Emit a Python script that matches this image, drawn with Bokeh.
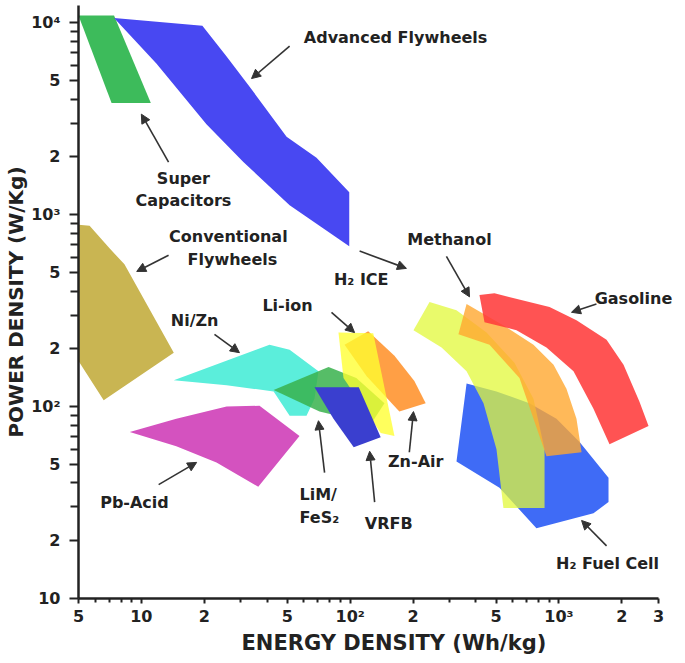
from bokeh.plotting import figure
from bokeh.models import ColumnDataSource, FixedTicker, Label, Arrow, NormalHead, Title
from bokeh.embed import file_html
from bokeh.resources import INLINE

# ---------------- data: Ragone regions (energy density Wh/kg, power density W/kg) --------------
supercap_energy = [5, 7.4, 11.1, 7.2]
supercap_power = [10900, 10900, 3820, 3820]

adv_flywheel_energy = [7.4, 19.6, 25.6, 33, 49.6, 69, 99, 99, 51.3, 30.8, 20.5, 11.8]
adv_flywheel_power = [10600, 9640, 6680, 4640, 2550, 1980, 1310, 685, 1120, 1880, 2960, 6140]

conv_flywheel_energy = [5, 5.65, 7.04, 8.3, 14.3, 6.6, 5]
conv_flywheel_power = [885, 875, 668, 551, 191, 108, 173]

nizn_energy = [14.3, 41.1, 51.3, 70.5, 67.5, 61.8, 51.3, 43, 25.6]
nizn_power = [137, 210, 198, 153, 110, 89.6, 89.6, 120, 129]

pbacid_energy = [8.8, 14.7, 25.6, 36.8, 57.2, 36.3, 22.9, 14.7]
pbacid_power = [73.8, 86.4, 100, 101, 70.3, 38.2, 51.2, 62.2]

lim_energy = [43, 78.8, 107, 146, 126, 71.3]
lim_power = [122, 161, 141, 104, 81.3, 94.2]

znair_energy = [94, 122, 163, 203, 230, 172, 120]
znair_power = [210, 247, 184, 136, 104, 94.2, 144]

liion_energy = [87.9, 129, 163, 140, 92.9]
liion_power = [243, 241, 70.3, 72.8, 141]

vrfb_energy = [67.5, 110, 140, 104, 83.2]
vrfb_power = [126, 126, 69.3, 61.4, 86.4]

fuelcell_energy = [361, 502, 722, 973, 1255, 1727, 1727, 1463, 780, 519, 323]
fuelcell_power = [132, 120, 104, 86.4, 65.3, 42.6, 31.8, 27.8, 23.2, 37.8, 51.8]

h2ice_energy = [240, 323, 450, 612, 755, 853, 853, 542, 502, 435, 361, 274, 201]
h2ice_power = [351, 318, 243, 169, 110, 60, 29.6, 29.6, 60, 104, 153, 203, 250]

methanol_energy = [361, 561, 755, 942, 1086, 1213, 1283, 871, 755, 647, 465, 330]
methanol_power = [342, 259, 210, 165, 124, 86.4, 57.8, 55.1, 86.4, 141, 210, 238]

gasoline_energy = [416, 491, 901, 1213, 1690, 2038, 2430, 2685, 1746, 1463, 1174, 871, 626, 440]
gasoline_power = [382, 389, 330, 282, 223, 165, 106, 79.3, 63.7, 97.5, 153, 203, 250, 275]

# axis ticks
x_ticks = [5, 10, 20, 50, 100, 200, 500, 1000, 2000, 3000]
x_tick_labels = ["5", "10", "2", "5", "10\u00b2", "2", "5", "10\u00b3", "2", "3"]
x_minor = [6, 7, 8, 9, 30, 40, 60, 70, 80, 90, 300, 400, 600, 700, 800, 900]
y_ticks = [10, 20, 50, 100, 200, 500, 1000, 2000, 5000, 10000]
y_tick_labels = ["10", "2", "5", "10\u00b2", "2", "5", "10\u00b3", "2", "5", "10\u2074"]
y_minor = [30, 40, 60, 70, 80, 90, 300, 400, 600, 700, 800, 900,
           3000, 4000, 6000, 7000, 8000, 9000]

# annotation labels (energy, power)
label_texts = ["Advanced Flywheels", "Super", "Capacitors", "Conventional", "Flywheels",
               "Ni/Zn", "Li-ion", "H\u2082 ICE", "Methanol", "Gasoline", "Zn-Air",
               "VRFB", "Pb-Acid", "H\u2082 Fuel Cell"]
label_x = [165, 15.9, 15.9, 26.1, 27.3, 18, 50.1, 113, 299, 2275, 206, 153, 9.27, 1709]
label_y = [8340, 1549, 1186, 774, 585, 282, 338, 458, 746, 364, 51.8, 24.7, 31.8, 15.3]
left_label_texts = ["LiM/", "FeS\u2082"]
left_label_x = [57.2, 57.2]
left_label_y = [34.7, 26.5]

# arrows: start -> end (head)
arrow_x0 = [51.3, 13.5, 13.5, 22.4, 81.4, 111, 289, 1512, 192, 75.4, 131, 12.1, 1690]
arrow_y0 = [7550, 1880, 614, 238, 310, 646, 607, 342, 57.8, 45.3, 31.8, 39.2, 18.8]
arrow_x1 = [33.7, 10.0, 9.5, 29.5, 105, 186, 373, 1148, 201, 70.5, 124, 18.4, 1283]
arrow_y1 = [5120, 3340, 506, 191, 243, 525, 373, 310, 94.2, 84.4, 58.5, 51.2, 25.5]

# ---------------- figure ----------------
# x frame extends past 3000 so the right-hand label has room; axis line stops at 3000
p = figure(width=676, height=654, x_axis_type="log", y_axis_type="log",
           x_range=(5, 3655), y_range=(10, 12300),
           output_backend="svg", toolbar_location=None,
           min_border_left=78, min_border_right=0, min_border_top=5, min_border_bottom=50)
p.outline_line_color = None
p.grid.visible = False
p.background_fill_color = "white"

regions = [
    (conv_flywheel_energy, conv_flywheel_power, "#c9b552", 1.0),
    (supercap_energy, supercap_power, "#3dbb5b", 1.0),
    (adv_flywheel_energy, adv_flywheel_power, "#4848f2", 1.0),
    (nizn_energy, nizn_power, "#5beedb", 1.0),
    (pbacid_energy, pbacid_power, "#d452bf", 1.0),
    (lim_energy, lim_power, "#38b24c", 0.85),
    (znair_energy, znair_power, "#ff9f45", 1.0),
    (liion_energy, liion_power, "#ffff30", 0.78),
    (vrfb_energy, vrfb_power, "#3a3fcf", 1.0),
    (fuelcell_energy, fuelcell_power, "#3f6bf6", 1.0),
    (h2ice_energy, h2ice_power, "#e2f83a", 0.75),
    (methanol_energy, methanol_power, "#ffa830", 0.8),
    (gasoline_energy, gasoline_power, "#ff3b3b", 0.88),
]
src = ColumnDataSource(dict(
    xs=[r[0] for r in regions], ys=[r[1] for r in regions],
    color=[r[2] for r in regions], alpha=[r[3] for r in regions]))
p.patches("xs", "ys", source=src, fill_color="color", fill_alpha="alpha", line_color=None)

# ---------------- axes ----------------
xa = p.xaxis[0]
ya = p.yaxis[0]
xa.bounds = (5, 3000)
xa.ticker = FixedTicker(ticks=x_ticks, minor_ticks=x_minor)
ya.ticker = FixedTicker(ticks=y_ticks, minor_ticks=y_minor)
xa.major_label_overrides = {t: l for t, l in zip(x_ticks, x_tick_labels)}
ya.major_label_overrides = {t: l for t, l in zip(y_ticks, y_tick_labels)}
for ax in (xa, ya):
    ax.major_label_text_font = "DejaVu Sans"
    ax.major_label_text_font_style = "bold"
    ax.major_label_text_font_size = "16px"
    ax.major_label_text_color = "#222222"
    ax.axis_line_width = 2.5
    ax.axis_line_color = "#222222"
    ax.major_tick_line_width = 2
    ax.minor_tick_line_width = 2
    ax.major_tick_line_color = "#222222"
    ax.minor_tick_line_color = "#222222"
    ax.major_tick_in = 0
    ax.minor_tick_in = 0
xa.major_tick_out = 5
xa.minor_tick_out = 4
xa.major_label_standoff = 3
xa.axis_label_standoff = 0
ya.major_tick_out = 9
ya.minor_tick_out = 8
ya.major_label_standoff = 9
ya.axis_label = "POWER DENSITY (W/Kg)"
ya.axis_label_text_font = "DejaVu Sans"
ya.axis_label_text_font_style = "bold"
ya.axis_label_text_font_size = "20px"
ya.axis_label_text_color = "#222222"
ya.axis_label_standoff = 0

xt = Title(text="ENERGY DENSITY (Wh/kg)", align="left", offset=163,
           text_font="DejaVu Sans", text_font_size="21px", text_font_style="bold",
           text_color="#222222", standoff=0)
p.add_layout(xt, "below")

# ---------------- annotations ----------------
for t, x, y in zip(label_texts, label_x, label_y):
    p.add_layout(Label(x=x, y=y, text=t, text_align="center", text_baseline="middle",
                       text_font="DejaVu Sans", text_font_style="bold",
                       text_font_size="16px", text_color="#222222"))
for t, x, y in zip(left_label_texts, left_label_x, left_label_y):
    p.add_layout(Label(x=x, y=y, text=t, text_align="left", text_baseline="middle",
                       text_font="DejaVu Sans", text_font_style="bold",
                       text_font_size="16px", text_color="#222222"))
for x0, y0, x1, y1 in zip(arrow_x0, arrow_y0, arrow_x1, arrow_y1):
    p.add_layout(Arrow(end=NormalHead(size=9, line_color="#333333", fill_color="#333333",
                                      line_width=1),
                       x_start=x0, y_start=y0, x_end=x1, y_end=y1,
                       line_color="#333333", line_width=1.6))

open("out.html", "w").write(file_html(p, INLINE))
